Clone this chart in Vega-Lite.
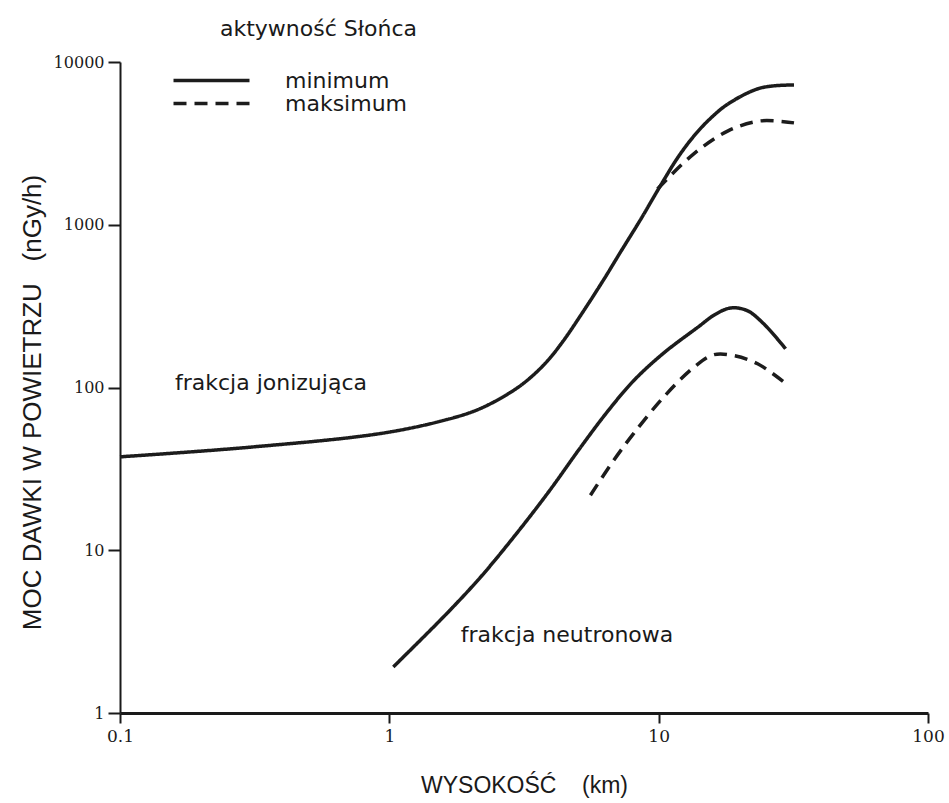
{
  "$schema": "https://vega.github.io/schema/vega-lite/v6.json",
  "width": 808,
  "height": 651,
  "autosize": {"type": "none"},
  "padding": {"left": 120, "top": 62, "right": 21, "bottom": 90},
  "background": "white",
  "title": {
    "text": "aktywność Słońca",
    "anchor": "start",
    "frame": "group",
    "dx": 100,
    "dy": 4,
    "offset": 17,
    "font": "DejaVu Sans",
    "fontSize": 22,
    "fontWeight": "normal",
    "color": "#1a1a1a"
  },
  "config": {
    "view": {"stroke": null},
    "axis": {"grid": false}
  },
  "datasets": {
    "krzywe": [
      {"frakcja": "jonizująca", "aktywnosc": "minimum", "wysokosc": 0.1, "moc": 37.5},
      {"frakcja": "jonizująca", "aktywnosc": "minimum", "wysokosc": 0.3, "moc": 42.9},
      {"frakcja": "jonizująca", "aktywnosc": "minimum", "wysokosc": 0.93, "moc": 52.2},
      {"frakcja": "jonizująca", "aktywnosc": "minimum", "wysokosc": 1.64, "moc": 63.6},
      {"frakcja": "jonizująca", "aktywnosc": "minimum", "wysokosc": 2.18, "moc": 74.3},
      {"frakcja": "jonizująca", "aktywnosc": "minimum", "wysokosc": 2.89, "moc": 95.9},
      {"frakcja": "jonizująca", "aktywnosc": "minimum", "wysokosc": 3.34, "moc": 115},
      {"frakcja": "jonizująca", "aktywnosc": "minimum", "wysokosc": 3.87, "moc": 146},
      {"frakcja": "jonizująca", "aktywnosc": "minimum", "wysokosc": 4.43, "moc": 194},
      {"frakcja": "jonizująca", "aktywnosc": "minimum", "wysokosc": 5.13, "moc": 277},
      {"frakcja": "jonizująca", "aktywnosc": "minimum", "wysokosc": 6.25, "moc": 460},
      {"frakcja": "jonizująca", "aktywnosc": "minimum", "wysokosc": 7.23, "moc": 683},
      {"frakcja": "jonizująca", "aktywnosc": "minimum", "wysokosc": 8.6, "moc": 1088},
      {"frakcja": "jonizująca", "aktywnosc": "minimum", "wysokosc": 10.2, "moc": 1760},
      {"frakcja": "jonizująca", "aktywnosc": "minimum", "wysokosc": 11.8, "moc": 2600},
      {"frakcja": "jonizująca", "aktywnosc": "minimum", "wysokosc": 13.5, "moc": 3500},
      {"frakcja": "jonizująca", "aktywnosc": "minimum", "wysokosc": 15.5, "moc": 4470},
      {"frakcja": "jonizująca", "aktywnosc": "minimum", "wysokosc": 18.1, "moc": 5525},
      {"frakcja": "jonizująca", "aktywnosc": "minimum", "wysokosc": 23.9, "moc": 6925},
      {"frakcja": "jonizująca", "aktywnosc": "minimum", "wysokosc": 31.8, "moc": 7226},
      {"frakcja": "jonizująca", "aktywnosc": "maksimum", "wysokosc": 9.9, "moc": 1660},
      {"frakcja": "jonizująca", "aktywnosc": "maksimum", "wysokosc": 13.5, "moc": 2728},
      {"frakcja": "jonizująca", "aktywnosc": "maksimum", "wysokosc": 18.1, "moc": 3774},
      {"frakcja": "jonizująca", "aktywnosc": "maksimum", "wysokosc": 23.9, "moc": 4347},
      {"frakcja": "jonizująca", "aktywnosc": "maksimum", "wysokosc": 31.8, "moc": 4227},
      {"frakcja": "neutronowa", "aktywnosc": "minimum", "wysokosc": 1.035, "moc": 1.92},
      {"frakcja": "neutronowa", "aktywnosc": "minimum", "wysokosc": 1.64, "moc": 4.11},
      {"frakcja": "neutronowa", "aktywnosc": "minimum", "wysokosc": 2.18, "moc": 6.83},
      {"frakcja": "neutronowa", "aktywnosc": "minimum", "wysokosc": 2.89, "moc": 12.0},
      {"frakcja": "neutronowa", "aktywnosc": "minimum", "wysokosc": 3.87, "moc": 22.4},
      {"frakcja": "neutronowa", "aktywnosc": "minimum", "wysokosc": 5.13, "moc": 42.9},
      {"frakcja": "neutronowa", "aktywnosc": "minimum", "wysokosc": 6.42, "moc": 70.3},
      {"frakcja": "neutronowa", "aktywnosc": "minimum", "wysokosc": 8.07, "moc": 110},
      {"frakcja": "neutronowa", "aktywnosc": "minimum", "wysokosc": 10.4, "moc": 162},
      {"frakcja": "neutronowa", "aktywnosc": "minimum", "wysokosc": 13.9, "moc": 233},
      {"frakcja": "neutronowa", "aktywnosc": "minimum", "wysokosc": 16.2, "moc": 281},
      {"frakcja": "neutronowa", "aktywnosc": "minimum", "wysokosc": 18.5, "moc": 308},
      {"frakcja": "neutronowa", "aktywnosc": "minimum", "wysokosc": 21.3, "moc": 297},
      {"frakcja": "neutronowa", "aktywnosc": "minimum", "wysokosc": 24.5, "moc": 247},
      {"frakcja": "neutronowa", "aktywnosc": "minimum", "wysokosc": 29.6, "moc": 173},
      {"frakcja": "neutronowa", "aktywnosc": "maksimum", "wysokosc": 5.58, "moc": 21.8},
      {"frakcja": "neutronowa", "aktywnosc": "maksimum", "wysokosc": 6.81, "moc": 35.7},
      {"frakcja": "neutronowa", "aktywnosc": "maksimum", "wysokosc": 8.08, "moc": 52.2},
      {"frakcja": "neutronowa", "aktywnosc": "maksimum", "wysokosc": 10.4, "moc": 86.8},
      {"frakcja": "neutronowa", "aktywnosc": "maksimum", "wysokosc": 13.5, "moc": 133},
      {"frakcja": "neutronowa", "aktywnosc": "maksimum", "wysokosc": 16.0, "moc": 159},
      {"frakcja": "neutronowa", "aktywnosc": "maksimum", "wysokosc": 19.0, "moc": 157},
      {"frakcja": "neutronowa", "aktywnosc": "maksimum", "wysokosc": 23.3, "moc": 140},
      {"frakcja": "neutronowa", "aktywnosc": "maksimum", "wysokosc": 29.6, "moc": 106}
    ],
    "etykiety": [
      {"wysokosc": 0.16, "moc": 96, "tekst": "frakcja jonizująca"},
      {"wysokosc": 1.84, "moc": 2.73, "tekst": "frakcja neutronowa"}
    ]
  },
  "layer": [
    {
      "data": {"name": "krzywe"},
      "mark": {"type": "line", "interpolate": "catmull-rom", "stroke": "#1c1c1c", "strokeWidth": 3.5},
      "encoding": {
        "x": {
          "field": "wysokosc",
          "type": "quantitative",
          "scale": {"type": "log", "domain": [0.1, 100], "nice": false},
          "axis": {
            "values": [0.1, 1, 10, 100],
            "format": "~g",
            "title": "WYSOKOŚĆ\u00a0\u00a0\u00a0\u00a0(km)",
            "domainColor": "#1a1a1a",
            "domainWidth": 3,
            "tickColor": "#1a1a1a",
            "tickWidth": 2,
            "tickSize": 10,
            "labelFont": "DejaVu Serif",
            "labelFontSize": 17,
            "labelColor": "#1a1a1a",
            "labelPadding": 5,
            "labelFlush": false,
            "titleFont": "Liberation Sans",
            "titleFontSize": 23,
            "titleFontWeight": "normal",
            "titleColor": "#1a1a1a",
            "titlePadding": 30
          }
        },
        "y": {
          "field": "moc",
          "type": "quantitative",
          "scale": {"type": "log", "domain": [1, 10000], "nice": false},
          "axis": {
            "values": [1, 10, 100, 1000, 10000],
            "format": "d",
            "title": "MOC DAWKI W POWIETRZU\u00a0\u00a0\u00a0(nGy/h)",
            "domainColor": "#1a1a1a",
            "domainWidth": 2,
            "tickColor": "#1a1a1a",
            "tickWidth": 2,
            "tickSize": 12,
            "labelFont": "DejaVu Serif",
            "labelFontSize": 16,
            "labelColor": "#1a1a1a",
            "labelPadding": 4,
            "labelFlush": false,
            "titleFont": "Liberation Sans",
            "titleFontSize": 26,
            "titleFontWeight": "normal",
            "titleColor": "#1a1a1a",
            "titlePadding": 8,
            "titleY": 340
          }
        },
        "detail": {"field": "frakcja"},
        "strokeDash": {
          "field": "aktywnosc",
          "type": "nominal",
          "scale": {"domain": ["minimum", "maksimum"], "range": [[1, 0], [13, 8]]},
          "legend": {
            "title": null,
            "orient": "none",
            "legendX": 80,
            "legendY": 7,
            "padding": 0,
            "rowPadding": -2,
            "symbolType": "M-4,0H4",
            "symbolSize": 361,
            "symbolStrokeWidth": 3.5,
            "symbolStrokeColor": "#1c1c1c",
            "symbolFillColor": "transparent",
            "labelFont": "DejaVu Sans",
            "labelFontSize": 22,
            "labelColor": "#1a1a1a",
            "labelOffset": 62
          }
        }
      }
    },
    {
      "data": {"name": "etykiety"},
      "mark": {"type": "text", "align": "left", "baseline": "alphabetic", "font": "DejaVu Sans", "fontSize": 22, "color": "#1a1a1a"},
      "encoding": {
        "x": {"field": "wysokosc", "type": "quantitative", "scale": {"type": "log", "domain": [0.1, 100], "nice": false}},
        "y": {"field": "moc", "type": "quantitative", "scale": {"type": "log", "domain": [1, 10000], "nice": false}},
        "text": {"field": "tekst"}
      }
    }
  ]
}
